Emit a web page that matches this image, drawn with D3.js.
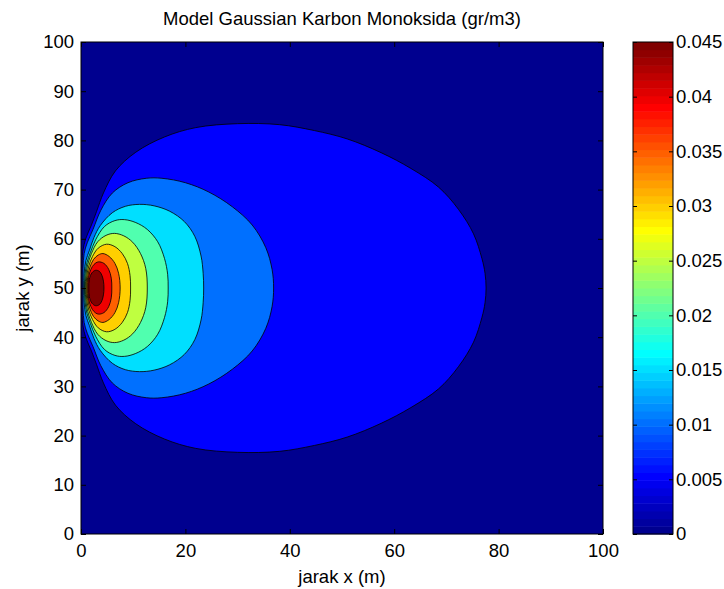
<!DOCTYPE html>
<html>
<head>
<meta charset="utf-8">
<script src="https://cdn.jsdelivr.net/npm/d3@7"></script>
<style>
  body { margin: 0; background: #fff; }
</style>
</head>
<body>
<script>
const width = 724;
const height = 589;
const fontFamily = "'Liberation Sans', Arial, sans-serif";
const fontSize = 18.5;

// Contour levels (gr/m3), colour limits of the plot
const levels = [0.005, 0.01, 0.015, 0.02, 0.025, 0.03, 0.035, 0.04, 0.045];
const cMin = 0;
const cMax = 0.045;

// Upper half (y >= 50) of each contour line, [x, y] in metres.
// Starts on the centre line near the source, ends on the centre line downwind.
// The plume is symmetric about y = 50, the lower half is the mirror image.
const c005 = [[0.17, 50], [0.2, 54], [0.35, 57.5], [0.9, 60], [2, 62.8], [3, 65.6], [4.3, 69.3],
  [6.6, 73.8], [10.5, 77.6], [16, 80.7], [22, 82.6], [30, 83.4], [38, 83.2], [44.7, 82], [51, 80.3],
  [57.5, 77.5], [63.2, 74.3], [68.5, 70.5], [72.3, 66], [75.2, 61], [76.8, 56], [77.4, 53], [77.6, 50]];
const c010 = [[0.33, 50], [0.38, 54], [0.6, 57], [1.2, 59.2], [2.3, 61.9], [3.8, 65.8], [6, 69.3],
  [9, 71.4], [12.5, 72.3], [15.5, 72.3], [20, 71.4], [24.5, 69.5], [29, 66.5], [32.8, 62.8],
  [35.4, 58.2], [36.6, 53.8], [36.9, 50]];
const c015 = [[0.5, 50], [0.6, 53], [0.95, 55.6], [1.6, 57.6], [2.5, 60.3], [3.7, 62.7], [6, 65.3],
  [8.5, 66.6], [11.2, 67], [14, 66.7], [17, 65.6], [19.8, 63.5], [21.8, 60.5], [23, 56.5], [23.4, 53],
  [23.5, 50]];
const c020 = [[0.67, 50], [0.77, 52.8], [1.15, 55.2], [1.8, 57.2], [2.8, 59.8], [4.5, 62.5], [6.5, 63.7],
  [8.3, 63.9], [10.5, 63.3], [12.7, 61.9], [14.7, 59.4], [16, 56], [16.6, 52.8], [16.7, 50]];
const c025 = [[0.83, 50], [0.93, 52.5], [1.3, 54.8], [2, 57], [3.2, 59.4], [4.8, 60.7], [6.4, 61.1],
  [8.2, 60.6], [9.9, 59.3], [11.4, 57], [12.4, 54], [12.7, 50]];
const c030 = [[1, 50], [1.1, 52.4], [1.5, 54.5], [2.2, 56.4], [3.3, 58.1], [4.9, 58.9], [6.5, 58.4],
  [7.9, 57], [8.9, 55], [9.4, 52.5], [9.5, 50]];
const c035 = [[1.17, 50], [1.27, 52.2], [1.7, 54.2], [2.4, 55.8], [3.3, 56.7], [4.2, 57], [5.4, 56.4],
  [6.5, 55], [7.2, 53], [7.5, 50]];
const c040 = [[1.33, 50], [1.45, 52.2], [1.9, 53.8], [2.5, 54.8], [3.3, 55.3], [4.4, 55], [5.3, 53.8],
  [5.8, 52], [5.9, 50]];
const c045 = [[1.5, 50], [1.6, 51.8], [2.1, 53.1], [2.8, 53.6], [3.5, 53.4], [4, 52.6], [4.3, 51.4], [4.4, 50]];
const contourHalves = [c005, c010, c015, c020, c025, c030, c035, c040, c045];

// Ticks
const xTicks = [0, 20, 40, 60, 80, 100];
const yTicks = [0, 10, 20, 30, 40, 50, 60, 70, 80, 90, 100];
const cbTicks = [0, 0.005, 0.01, 0.015, 0.02, 0.025, 0.03, 0.035, 0.04, 0.045];
const cbTickLabels = ["0", "0.005", "0.01", "0.015", "0.02", "0.025", "0.03", "0.035", "0.04", "0.045"];

// MATLAB jet(m) colormap
function jet(m) {
  const n = Math.ceil(m / 4);
  const u = [];
  for (let i = 1; i <= n; i++) u.push(i / n);
  for (let i = 1; i < n; i++) u.push(1);
  for (let i = n; i >= 1; i--) u.push(i / n);
  const g0 = Math.ceil(n / 2) - (m % 4 === 1 ? 1 : 0);
  const J = d3.range(m).map(() => [0, 0, 0]);
  u.forEach((v, k) => {
    const g = g0 + k + 1;
    const r = g + n;
    const b = g - n;
    if (r >= 1 && r <= m) J[r - 1][0] = v;
    if (g >= 1 && g <= m) J[g - 1][1] = v;
    if (b >= 1 && b <= m) J[b - 1][2] = v;
  });
  return J.map(c => d3.rgb(c[0] * 255, c[1] * 255, c[2] * 255).formatHex());
}
const jetColors = jet(64);

function colorOf(v) {
  let i = Math.floor((v - cMin) / (cMax - cMin) * 64);
  i = Math.max(0, Math.min(63, i));
  return jetColors[i];
}

const plot = { left: 81, right: 603, top: 42, bottom: 534 };
const cb = { left: 633, right: 673 };

const svg = d3.select("body").append("svg")
  .attr("width", width)
  .attr("height", height)
  .style("font-family", fontFamily);

const x = d3.scaleLinear().domain([0, 100]).range([plot.left, plot.right]);
const y = d3.scaleLinear().domain([0, 100]).range([plot.bottom, plot.top]);

svg.append("clipPath").attr("id", "plot-clip")
  .append("rect")
  .attr("x", plot.left).attr("y", plot.top)
  .attr("width", plot.right - plot.left)
  .attr("height", plot.bottom - plot.top);

// Background = lowest band
const field = svg.append("g").attr("clip-path", "url(#plot-clip)");
field.append("rect")
  .attr("x", plot.left).attr("y", plot.top)
  .attr("width", plot.right - plot.left)
  .attr("height", plot.bottom - plot.top)
  .attr("fill", colorOf(cMin));

// Closed contour: upper half + mirrored lower half (shared centre-line points not repeated)
function fullContour(half) {
  const lower = half.slice(1, -1).reverse().map(([px, py]) => [px, 100 - py]);
  return half.concat(lower);
}

const line = d3.line()
  .x(d => x(d[0]))
  .y(d => y(d[1]))
  .curve(d3.curveCatmullRomClosed.alpha(0.5));

// Filled contours, outermost first
field.selectAll("path.band")
  .data(contourHalves.map((half, i) => ({ level: levels[i], pts: fullContour(half) })))
  .enter()
  .append("path")
  .attr("class", "band")
  .attr("d", d => line(d.pts))
  .attr("fill", d => colorOf(d.level))
  .attr("stroke", "#000")
  .attr("stroke-width", 0.8);

// Axes (MATLAB style, ticks pointing inward)
function styleAxis(g) {
  g.select(".domain").remove();
  g.selectAll("line").attr("stroke", "#000");
  g.selectAll("text")
    .attr("fill", "#000")
    .style("font-family", fontFamily)
    .style("font-size", fontSize + "px");
}

svg.append("g")
  .attr("transform", `translate(0,${plot.bottom})`)
  .call(d3.axisBottom(x).tickValues(xTicks).tickSize(-5).tickPadding(10))
  .call(styleAxis);

svg.append("g")
  .attr("transform", `translate(${plot.left},0)`)
  .call(d3.axisLeft(y).tickValues(yTicks).tickSize(-5).tickPadding(7))
  .call(styleAxis);

svg.append("g")
  .attr("transform", `translate(0,${plot.top})`)
  .call(d3.axisTop(x).tickValues(xTicks).tickSize(-5).tickFormat(""))
  .call(styleAxis);

svg.append("g")
  .attr("transform", `translate(${plot.right},0)`)
  .call(d3.axisRight(y).tickValues(yTicks).tickSize(-5).tickFormat(""))
  .call(styleAxis);

svg.append("rect")
  .attr("x", plot.left).attr("y", plot.top)
  .attr("width", plot.right - plot.left)
  .attr("height", plot.bottom - plot.top)
  .attr("fill", "none")
  .attr("stroke", "#000")
  .attr("stroke-width", 1);

// Colorbar
const cbScale = d3.scaleLinear().domain([cMin, cMax]).range([plot.bottom, plot.top]);
const cbStep = (cMax - cMin) / jetColors.length;

svg.append("g")
  .selectAll("rect")
  .data(jetColors)
  .enter()
  .append("rect")
  .attr("x", cb.left)
  .attr("width", cb.right - cb.left)
  .attr("y", (d, i) => cbScale(cMin + (i + 1) * cbStep))
  .attr("height", (d, i) => cbScale(cMin + i * cbStep) - cbScale(cMin + (i + 1) * cbStep) + 0.5)
  .attr("fill", d => d);

svg.append("g")
  .attr("transform", `translate(${cb.right},0)`)
  .call(d3.axisRight(cbScale).tickValues(cbTicks).tickFormat((d, i) => cbTickLabels[i])
    .tickSize(-4).tickPadding(3))
  .call(styleAxis);

svg.append("g")
  .attr("transform", `translate(${cb.left},0)`)
  .call(d3.axisLeft(cbScale).tickValues(cbTicks).tickSize(-4).tickFormat(""))
  .call(styleAxis);

svg.append("rect")
  .attr("x", cb.left).attr("y", plot.top)
  .attr("width", cb.right - cb.left)
  .attr("height", plot.bottom - plot.top)
  .attr("fill", "none")
  .attr("stroke", "#000")
  .attr("stroke-width", 1);

// Title and axis labels
svg.append("text")
  .attr("x", (plot.left + plot.right) / 2)
  .attr("y", 25)
  .attr("text-anchor", "middle")
  .style("font-size", fontSize + "px")
  .text("Model Gaussian Karbon Monoksida (gr/m3)");

svg.append("text")
  .attr("x", (plot.left + plot.right) / 2)
  .attr("y", 583)
  .attr("text-anchor", "middle")
  .style("font-size", fontSize + "px")
  .text("jarak x (m)");

svg.append("text")
  .attr("transform", `translate(29,${(plot.top + plot.bottom) / 2}) rotate(-90)`)
  .attr("text-anchor", "middle")
  .style("font-size", fontSize + "px")
  .text("jarak y (m)");
</script>
</body>
</html>
